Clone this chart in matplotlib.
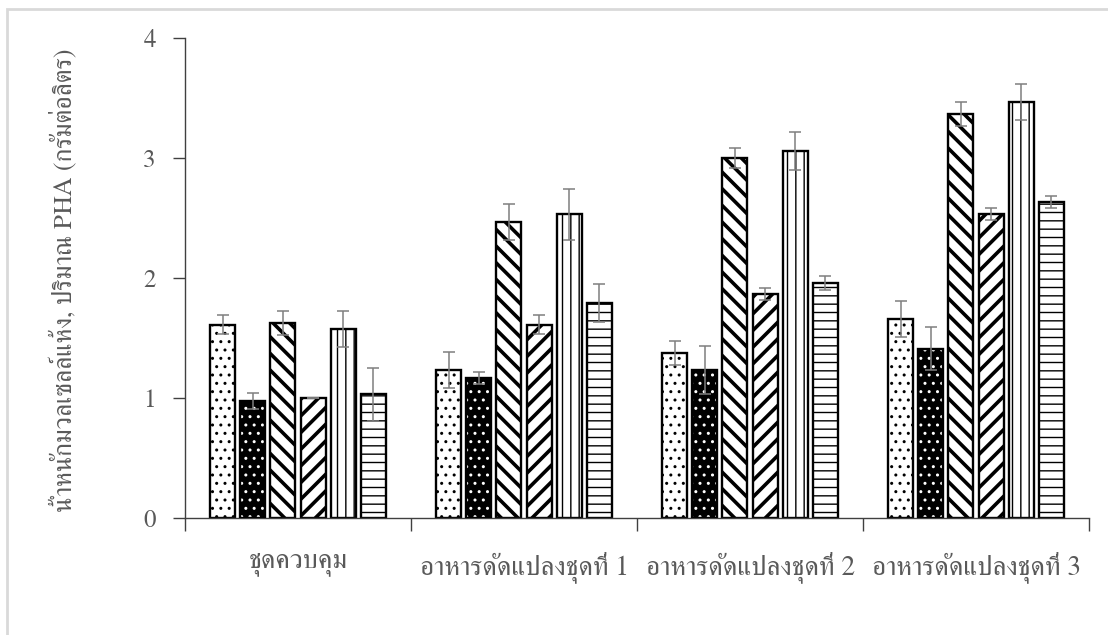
import numpy as np
import matplotlib
matplotlib.use("Agg")
import matplotlib.pyplot as plt
from matplotlib.patches import Rectangle

# data
groups = ["ชุดควบคุม", "อาหารดัดแปลงชุดที่ 1", "อาหารดัดแปลงชุดที่ 2", "อาหารดัดแปลงชุดที่ 3"]
s1 = [1.61, 1.23, 1.375, 1.66]
s2 = [0.975, 1.17, 1.23, 1.41]
s3 = [1.625, 2.47, 3.0, 3.37]
s4 = [1.00, 1.61, 1.87, 2.53]
s5 = [1.575, 2.53, 3.06, 3.47]
s6 = [1.03, 1.79, 1.96, 2.63]
e1 = [0.08, 0.15, 0.10, 0.15]
e2 = [0.065, 0.05, 0.20, 0.18]
e3 = [0.10, 0.15, 0.08, 0.10]
e4 = [0.0, 0.08, 0.05, 0.05]
e5 = [0.15, 0.21, 0.16, 0.15]
e6 = [0.22, 0.16, 0.06, 0.05]

ylabel = "น้ำหนักมวลเซลล์แห้ง, ปริมาณ PHA (กรัมต่อลิตร)"

series = [s1, s2, s3, s4, s5, s6]
errors = [e1, e2, e3, e4, e5, e6]
hatches = ["..", "..", "\\\\", "//", "||", "--"]
hatch_lw = [1.0, 1.0, 2.6, 2.6, 1.0, 1.0]

FONT = ["FreeSerif", "DejaVu Serif"]
GRAY = "#595959"

fig = plt.figure(figsize=(11.08, 6.35), dpi=100)
# light frame around the chart area
fig.patches.append(Rectangle((7 / 1108, -0.05), 1.2, 1.05 - 9 / 635, transform=fig.transFigure,
                             fill=False, edgecolor="#d9d9d9", linewidth=2))
ax = fig.add_axes([185 / 1108, 1 - 518 / 635, (1089 - 185) / 1108, (518 - 38) / 635])

x = np.arange(len(groups)) + 0.5
w = 0.11
step = 0.1336
for i, (vals, errs) in enumerate(zip(series, errors)):
    pos = x + (i - 2.5) * step
    plt.rcParams["hatch.linewidth"] = hatch_lw[i]
    if i == 1:
        bb = ax.bar(pos, vals, w, color="black", edgecolor="white", hatch=hatches[i], linewidth=0, zorder=2)
        ax.bar(pos, vals, w, fill=False, edgecolor="black", linewidth=1.7, zorder=3)
    else:
        bb = ax.bar(pos, vals, w, color="white", edgecolor="black", hatch=hatches[i], linewidth=1.7, zorder=2)
    for p in bb:
        if hasattr(p, "set_hatch_linewidth"):
            p.set_hatch_linewidth(hatch_lw[i])
    ax.errorbar(pos, vals, yerr=errs, fmt="none", ecolor="#7f7f7f", elinewidth=1.1,
                capsize=4.3, capthick=1.1, zorder=4)

ax.set_xlim(0, 4)
ax.set_ylim(0, 4)
ax.set_yticks([0, 1, 2, 3, 4])
ax.set_xticks([0, 1, 2, 3, 4])
ax.set_xticklabels([])
ax.set_xticks(x, minor=True)
ax.set_xticklabels(groups, minor=True, fontsize=19.5, color=GRAY, family=FONT)
ax.tick_params(axis="x", which="major", direction="out", length=9, width=1, color="#404040")
ax.tick_params(axis="x", which="minor", length=0, pad=24)
ax.tick_params(axis="y", direction="out", length=9, width=1, color="#404040", pad=12)
for lab in ax.get_yticklabels():
    lab.set_fontfamily(FONT)
    lab.set_fontsize(18)
    lab.set_color(GRAY)

for side in ["top", "right"]:
    ax.spines[side].set_visible(False)
for side in ["left", "bottom"]:
    ax.spines[side].set_color("#404040")
    ax.spines[side].set_linewidth(1)

fig.text(64 / 1108, 1 - 280 / 635, ylabel, rotation=90, ha="center", va="center",
         fontsize=18.5, color=GRAY, family=FONT)

fig.savefig("out.png", dpi=100)
